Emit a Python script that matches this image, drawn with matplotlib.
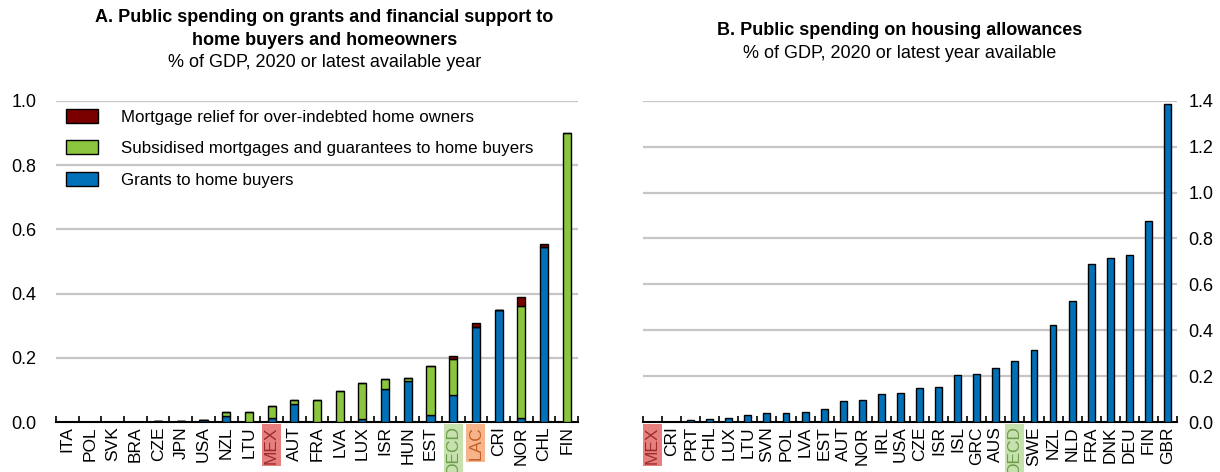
import matplotlib.pyplot as plt
import numpy as np
from matplotlib.patches import Patch

plt.rcParams['font.family'] = ['Liberation Sans Narrow', 'Liberation Sans', 'DejaVu Sans']

# Panel A: grants and financial support, % of GDP
cats_a = ['ITA', 'POL', 'SVK', 'BRA', 'CZE', 'JPN', 'USA', 'NZL', 'LTU', 'MEX', 'AUT', 'FRA',
          'LVA', 'LUX', 'ISR', 'HUN', 'EST', 'OECD', 'LAC', 'CRI', 'NOR', 'CHL', 'FIN']
grants = [0, 0, 0, 0.001, 0.003, 0.003, 0.006, 0.018, 0, 0.014, 0.055, 0,
          0, 0.01, 0.104, 0.128, 0.022, 0.084, 0.297, 0.35, 0.012, 0.545, 0]
subsidised = [0, 0, 0, 0, 0, 0, 0, 0.012, 0.03, 0.036, 0.013, 0.07,
              0.097, 0.111, 0.029, 0.01, 0.152, 0.113, 0, 0, 0.348, 0, 0.9]
relief = [0, 0, 0, 0, 0, 0, 0, 0, 0, 0, 0, 0,
          0, 0, 0, 0, 0, 0.008, 0.011, 0, 0.03, 0.01, 0]

# Panel B: housing allowances, % of GDP
cats_b = ['MEX', 'CRI', 'PRT', 'CHL', 'LUX', 'LTU', 'SVN', 'POL', 'LVA', 'EST', 'AUT', 'NOR',
          'IRL', 'USA', 'CZE', 'ISR', 'ISL', 'GRC', 'AUS', 'OECD', 'SWE', 'NZL', 'NLD', 'FRA',
          'DNK', 'DEU', 'FIN', 'GBR']
allowances = [0, 0, 0.007, 0.012, 0.019, 0.029, 0.038, 0.041, 0.044, 0.058, 0.092, 0.095,
              0.122, 0.128, 0.15, 0.152, 0.207, 0.21, 0.236, 0.268, 0.316, 0.424, 0.528, 0.688,
              0.715, 0.728, 0.875, 1.384]

blue = '#0070B8'
green = '#8CC63F'
dark_red = '#7A0000'
grid_col = '#C6C6C6'

# label highlight colours: (background, text)
highlight = {'MEX': ('#E6807F', '#9E2A2D'),
             'OECD': ('#C6E0AE', '#6E9E4A'),
             'LAC': ('#F7B389', '#C0602A')}

fig = plt.figure(figsize=(12.2, 4.72), dpi=100)
ax1 = fig.add_axes([0.0459, 0.1059, 0.4279, 0.6805])
ax2 = fig.add_axes([0.5270, 0.1059, 0.4378, 0.6805])


def style_axis(ax, cats, ymax, step):
    n = len(cats)
    ax.set_xlim(-0.5, n - 0.5)
    ax.set_ylim(0, ymax)
    ticks = np.arange(0, ymax + 1e-9, step)
    ax.set_yticks(ticks)
    ax.set_yticklabels([f'{t:.1f}' for t in ticks], fontsize=13)
    for t in ticks[1:]:
        ax.axhline(t, color=grid_col, lw=1.6, zorder=0)
    for s in ['top', 'left', 'right']:
        ax.spines[s].set_visible(False)
    ax.spines['bottom'].set_linewidth(1.5)
    ax.tick_params(axis='y', length=0)
    ax.set_xticks(np.arange(n))
    ax.set_xticklabels(cats, rotation=90, fontsize=12.5)
    ax.tick_params(axis='x', which='major', length=0, pad=3)
    ax.set_xticks(np.arange(n + 1) - 0.5, minor=True)
    ax.tick_params(axis='x', which='minor', direction='in', length=4, width=1.2)
    for lab in ax.get_xticklabels():
        key = lab.get_text()
        if key in highlight:
            bg, fg = highlight[key]
            lab.set_color(fg)
            lab.set_bbox(dict(facecolor=bg, edgecolor='none', pad=1.5))


# Panel A stacked bars
x_a = np.arange(len(cats_a))
w = 0.36
g = np.array(grants)
s = np.array(subsidised)
r = np.array(relief)
ax1.bar(x_a, g, w, color=blue, edgecolor='black', lw=1, zorder=3)
ax1.bar(x_a, s, w, bottom=g, color=green, edgecolor='black', lw=1, zorder=3)
ax1.bar(x_a, r, w, bottom=g + s, color=dark_red, edgecolor='black', lw=1, zorder=3)
style_axis(ax1, cats_a, 1.0, 0.2)
ax1.tick_params(axis='y', pad=14)

handles = [Patch(facecolor=dark_red, edgecolor='black', lw=1),
           Patch(facecolor=green, edgecolor='black', lw=1),
           Patch(facecolor=blue, edgecolor='black', lw=1)]
labels = ['Mortgage relief for over-indebted home owners',
          'Subsidised mortgages and guarantees to home buyers',
          'Grants to home buyers']
leg = ax1.legend(handles, labels, loc='upper left', bbox_to_anchor=(-0.003, 1.012),
                 frameon=False, fontsize=12.2, handlelength=1.9, handleheight=0.9,
                 labelspacing=0.92, handletextpad=1.35, borderaxespad=0.3)
leg.set_zorder(5)

fig.text(0.266, 0.962, 'A. Public spending on grants and financial support to',
         ha='center', va='center', fontsize=13, fontweight='bold')
fig.text(0.266, 0.915, 'home buyers and homeowners',
         ha='center', va='center', fontsize=13, fontweight='bold')
fig.text(0.266, 0.868, '% of GDP, 2020 or latest available year', ha='center', va='center', fontsize=13)

# Panel B bars
x_b = np.arange(len(cats_b))
ax2.bar(x_b, allowances, w, color=blue, edgecolor='black', lw=1, zorder=3)
style_axis(ax2, cats_b, 1.4, 0.2)
ax2.yaxis.tick_right()
ax2.tick_params(axis='y', length=0, pad=8)

fig.text(0.737, 0.936, 'B. Public spending on housing allowances',
         ha='center', va='center', fontsize=13, fontweight='bold')
fig.text(0.737, 0.886, '% of GDP, 2020 or latest year available', ha='center', va='center', fontsize=13)

fig.savefig('out.png', dpi=100)
